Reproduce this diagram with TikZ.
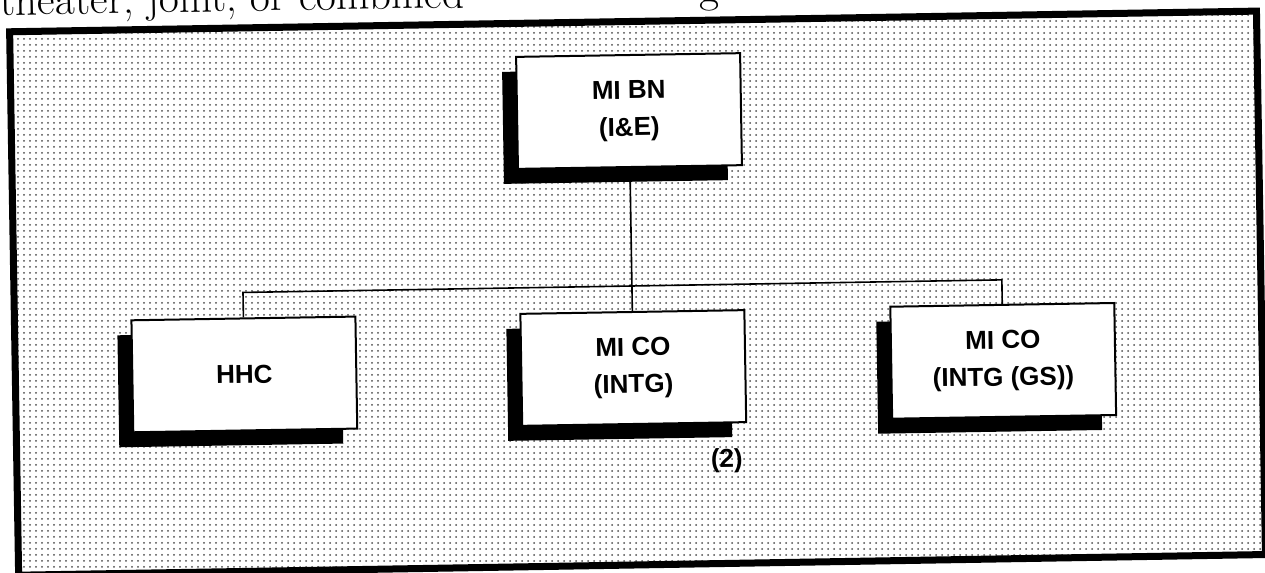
\documentclass[tikz,border=0pt]{standalone}
\usepackage{fontspec}
\setsansfont{Liberation Sans}
\usetikzlibrary{patterns,shadows,positioning}

\begin{document}
\begin{tikzpicture}[x=0.5pt,y=0.5pt,
  every node/.style={font=\sffamily\bfseries\fontsize{13}{18.5}\selectfont},
  unitbox/.style={draw,fill=white,line width=1pt,minimum width=112pt,minimum height=56pt,align=center,
    drop shadow={shadow xshift=-7pt,shadow yshift=-7.5pt,fill=black,opacity=1}},
  link/.style={line width=0.8pt}]
\useasboundingbox (-632,-283) rectangle (633,290);
\begin{scope}[rotate=0.95,transform shape]
% page text cut by the top edge
\node[anchor=base west,font=\fontsize{21.7}{26}\selectfont] (pagetext) at (-634,285) {theater, joint, or combined};
\node[anchor=base west,font=\fontsize{21.7}{26}\selectfont] (pageg) at (65,286) {g};
% frame
\draw[line width=3.5pt,pattern=dots,pattern color=black!70] (-618,-275) rectangle (629,268.5);
% units
\node[unitbox] (bn) at (0,179) {MI BN\\(I\&E)};
\node[unitbox] (hhc) at (-389,-78) {HHC};
\node[unitbox] (intg) at (0,-78) {MI CO\\(INTG)};
\node[unitbox] (gs) at (370,-77) {MI CO\\(INTG (GS))};
\node (count) at (92,-172) {(2)};
% lines
\coordinate (bus) at (0,4);
\draw[link] (bn.south) -- (intg.north);
\draw[link] (hhc.north) |- (bus) -| (gs.north);
\end{scope}
\end{tikzpicture}
\end{document}
